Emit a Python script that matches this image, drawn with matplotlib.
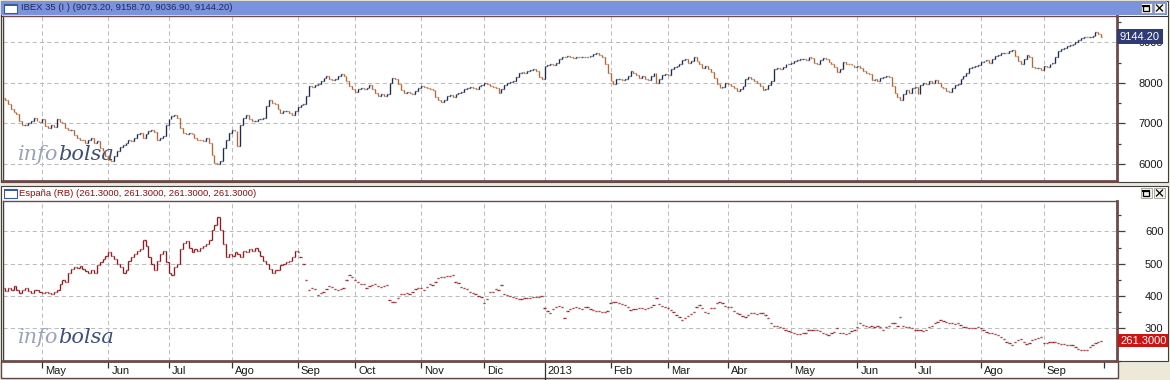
import numpy as np
import pandas as pd
import matplotlib
matplotlib.use('Agg')
import matplotlib.pyplot as plt
from matplotlib.collections import LineCollection
from matplotlib.patches import Rectangle

# ---------------- data ----------------
start_date = '2012-04-12'

ibex_first_open = 7620
ibex_close = [
    7570, 7490, 7350, 7290, 7240, 7070, 6960, 6970, 7020, 7070,
    7140, 7070, 7040, 7100, 6930, 6890, 6970, 6910, 7100, 7040,
    7020, 6890, 6830, 6850, 6710, 6630, 6580, 6600, 6520, 6580,
    6630, 6520, 6560, 6400, 6310, 6190, 6110, 6070, 6190, 6310,
    6410, 6460, 6520, 6600, 6560, 6640, 6730, 6770, 6630, 6730,
    6810, 6850, 6790, 6600, 6640, 6690, 6970, 7100, 7180, 7210,
    7140, 6890, 6770, 6740, 6770, 6730, 6640, 6600, 6580, 6560,
    6630, 6520, 6230, 6025, 6000, 6070, 6400, 6600, 6770, 6850,
    6810, 6440, 6970, 7140, 7220, 7120, 7060, 7070, 7100, 7120,
    7140, 7430, 7570, 7510, 7470, 7350, 7260, 7300, 7320, 7260,
    7220, 7300, 7400, 7450, 7490, 7680, 7920, 7900, 7950, 7980,
    8050, 8130, 8170, 8110, 8070, 8090, 8170, 8210, 8170, 8050,
    7920, 7840, 7780, 7860, 7880, 7840, 7880, 7950, 7860, 7760,
    7680,
    7720, 7680, 7730, 8000, 8130, 8090, 7970, 7820, 7760, 7780,
    7760, 7730, 7800, 7870, 7920, 7900, 7870, 7840, 7820, 7650,
    7590, 7540, 7570, 7680, 7700, 7650, 7720, 7760, 7780, 7840,
    7880, 7900, 7870, 7840, 7920, 7950, 8000, 7970, 7920, 7900,
    7870, 7760, 7840, 7950, 8000, 8030, 8050, 8150, 8250, 8280,
    8250, 8300, 8310, 8340, 8300, 8150, 8110, 8420, 8440, 8460,
    8440, 8500, 8590, 8640, 8630, 8670, 8630, 8610, 8640, 8630,
    8640, 8630, 8640, 8670, 8710, 8730, 8690, 8630, 8460, 8250,
    8050, 7970, 8090, 8110, 8070, 8110, 8170, 8300, 8250, 8200,
    8130, 8170, 8090, 8070, 8170, 8250, 8000, 8090, 8200, 8230,
    8200, 8340, 8400, 8420, 8460, 8560, 8590, 8500, 8540, 8630,
    8540, 8460, 8380, 8420, 8340, 8280, 8130, 7970, 7870, 7900,
    8000, 7980, 7920, 7870, 7800, 7840, 7920, 8090, 8150,
    8090, 8050, 8000, 7920, 7820, 7840, 7950, 8050, 8340, 8380,
    8340, 8400, 8460, 8480, 8500, 8540, 8560, 8590, 8590, 8560,
    8630, 8610, 8500, 8480, 8560, 8610, 8590, 8530, 8480, 8400,
    8280, 8340, 8530, 8480, 8460, 8440, 8400, 8420, 8360, 8300,
    8250, 8210, 8070, 8110, 8050, 8130, 8150, 8170, 8150, 7920,
    7760, 7650, 7570, 7720, 7820, 7760, 7880, 7900, 7720, 7960,
    8000, 7980, 8050, 8000, 8070, 8000, 7900, 7870, 7800, 7780,
    7870, 7950, 7970, 8090, 8170, 8250, 8380, 8400, 8420, 8440,
    8530, 8540, 8560, 8500, 8590, 8670, 8690, 8730, 8750, 8730,
    8780, 8810, 8670, 8540, 8480, 8590, 8690, 8640, 8400, 8360,
    8380, 8310, 8420, 8400, 8460, 8500, 8630, 8780, 8830, 8870,
    8920, 8940, 8970, 9020, 9060, 9110, 9140, 9130, 9140, 9160,
    9250, 9210, 9144.20,
]
ibex_last_ohlc = [9073.20, 9158.70, 9036.90, 9144.20]

espana_first_open = 425
espana_ranged_bars = 103   # bars drawn with a high-low range; later ones are single prints
espana_close = [
    415, 425, 420, 430, 420, 410, 418, 425, 415, 410,
    418, 420, 412, 408, 412, 410, 405, 412, 420, 438,
    450, 445, 470, 485, 490, 488, 492, 485, 478, 470,
    480, 472, 495, 505, 515, 525, 535, 525, 515, 500,
    490, 470, 480, 510, 520, 530, 540, 545, 575, 555,
    520, 500, 480, 510, 530, 540, 505, 470, 465, 490,
    500, 545, 565, 570, 550, 535, 545, 540, 550, 555,
    560, 575, 605, 620, 645, 605, 560, 520, 530, 525,
    535, 530, 520, 540, 535, 545, 540, 550, 540, 525,
    510, 500, 485, 470, 480, 480, 495, 500, 505, 510,
    520, 540, 535,
    522, 500, 450, 419, 424, 421, 404,
    409, 414, 421, 432, 427, 421, 419, 423, 425, 450,
    466, 458, 450, 442, 438, 438, 424, 431, 435, 438,
    431, 429, 431, 434, 388, 380, 383, 393,
    406, 406, 408, 406, 414, 421, 424, 424, 419, 429,
    437, 434, 445, 455, 458, 458, 462, 462, 464, 445,
    440, 427, 424, 421, 414, 410, 406, 400, 396, 379,
    390, 414, 414, 421, 419, 434, 406, 403, 400, 396,
    393, 390, 390, 393, 393, 393, 396, 398, 398, 400,
    362, 354, 348, 360, 367, 369, 367, 333, 355, 361,
    362, 365, 362, 359, 367, 365, 359, 357, 355, 355,
    351, 351, 355, 377, 382, 382, 377, 375, 372, 365,
    357, 359, 359, 362, 362, 359, 362, 365, 372, 393,
    375, 369, 367, 362, 357, 351, 341, 334, 325, 331,
    338, 344, 351, 365, 372, 362, 351, 346, 362, 362,
    377, 382, 379, 369, 367, 365, 355, 348, 344, 338,
    336, 341, 346,
    346, 344, 348, 348, 341, 331, 315, 307, 307, 305,
    300, 296, 292, 289, 286, 282, 282, 286, 284, 294,
    296, 296, 294, 292, 286, 282, 279, 284, 290, 300,
    286, 284, 282, 286, 292, 296, 303, 317, 310, 307,
    305, 307, 305, 307, 303, 296, 303, 307, 317, 317,
    307, 336, 307, 305, 303, 300, 296, 294, 294, 292,
    296, 305, 307, 315, 319, 325, 323, 319, 317, 315,
    313, 315, 310, 305, 303, 300, 300, 300, 303, 300,
    294, 289, 286, 284, 282, 279, 274, 266, 258, 253,
    248, 258, 264, 266, 258, 251, 255, 264, 266, 269,
    274, 255, 255, 258, 258, 258, 253, 251, 251, 247,
    247, 247, 242, 237, 234, 234, 234, 242, 248, 253,
    258, 261.30,
]
espana_last_ohlc = [261.30, 261.30, 261.30, 261.30]

month_starts = ['2012-05-01', '2012-06-01', '2012-07-01', '2012-08-01', '2012-09-01',
                '2012-10-01', '2012-11-01', '2012-12-01', '2013-01-01', '2013-02-01',
                '2013-03-01', '2013-04-01', '2013-05-01', '2013-06-01', '2013-07-01',
                '2013-08-01', '2013-09-01', '2013-10-01']
month_labels = ['May', 'Jun', 'Jul', 'Ago', 'Sep', 'Oct', 'Nov', 'Dic', '2013', 'Feb',
                'Mar', 'Abr', 'May', 'Jun', 'Jul', 'Ago', 'Sep', '']

ibex_yticks = [6000, 7000, 8000, 9000]
ibex_yminor = [6500, 7500, 8500, 9500]
espana_yticks = [300, 400, 500, 600]
espana_yminor = [200, 250, 350, 450, 550, 650]

# ---------------- figure ----------------
plt.rcParams['font.family'] = ['Liberation Sans', 'DejaVu Sans']
W, H = 1170, 380
fig = plt.figure(figsize=(W / 100, H / 100), dpi=100, facecolor='#ece9d8')


def px_rect(x0, y0, x1, y1):
    return [x0 / W, 1 - y1 / H, (x1 - x0) / W, (y1 - y0) / H]


# window chrome drawn on a pixel canvas
bg = fig.add_axes([0, 0, 1, 1])
bg.set_xlim(0, W)
bg.set_ylim(H, 0)
bg.axis('off')
frame_c = '#5c4848'
bg.add_patch(Rectangle((0.5, 0.5), 1167, 181.5, fc='white', ec='#404040', lw=0.8))
bg.add_patch(Rectangle((1, 1), 1166, 14, fc='#7b93dc', ec='none'))
bg.plot([1, 1167], [15.5, 15.5], color='#3a3030', lw=0.8)
bg.add_patch(Rectangle((0.5, 185.5), 1167, 175, fc='white', ec='#404040', lw=0.8))
bg.add_patch(Rectangle((0.5, 361), 1117, 16.5, fc='white', ec=frame_c, lw=1.0))


def win_icon(x, y):
    bg.add_patch(Rectangle((x, y), 13, 9, fc='white', ec='#3a5a9a', lw=0.8))
    bg.add_patch(Rectangle((x, y), 13, 2, fc='#3a5a9a', ec='none'))


def buttons(y):
    bg.add_patch(Rectangle((1140.5, y), 11, 10, fc='#f2f1ec', ec='#9a9a9a', lw=0.6))
    bg.add_patch(Rectangle((1143, y + 2.5), 6, 5, fc='none', ec='black', lw=0.9))
    bg.plot([1143, 1149], [y + 3, y + 3], color='black', lw=1.4)
    bg.add_patch(Rectangle((1154, y), 11, 10, fc='#f2f1ec', ec='#9a9a9a', lw=0.6))
    bg.plot([1156.5, 1162.5], [y + 2, y + 8], color='black', lw=0.9)
    bg.plot([1156.5, 1162.5], [y + 8, y + 2], color='black', lw=0.9)


win_icon(4, 4)
win_icon(4, 189)
buttons(3)
buttons(188)

o, h, l, c = ibex_last_ohlc
bg.text(21, 8, f'IBEX 35 (I ) ({o:.2f}, {h:.2f}, {l:.2f}, {c:.2f})',
        fontsize=6.8, color='#1e2860', va='center', ha='left')
o, h, l, c = espana_last_ohlc
bg.text(19, 193.5, f'España (RB) ({o:.4f}, {h:.4f}, {l:.4f}, {c:.4f})',
        fontsize=6.8, color='#8b0d0d', va='center', ha='left')

# ---------------- data axes ----------------
dates = pd.bdate_range(start_date, periods=len(ibex_close))
x = np.arange(len(ibex_close))
month_pos = dates.searchsorted(pd.to_datetime(month_starts))

ax1 = fig.add_axes(px_rect(3, 16, 1117, 181))
ax2 = fig.add_axes(px_rect(3, 201, 1117, 361))

xl = (-0.7, 387.5)
spine_c = '#6e4a4a'
grid_kw = dict(color='#bdbdbd', lw=0.75, ls=(0, (4, 3)))

for ax in (ax1, ax2):
    ax.set_xlim(*xl)
    ax.set_facecolor('white')
    ax.set_axisbelow(True)
    for s, w, cc in (('left', 1.0, '#4a3a3a'), ('top', 1.0, spine_c),
                     ('bottom', 2.0, spine_c), ('right', 2.0, spine_c)):
        ax.spines[s].set_color(cc)
        ax.spines[s].set_linewidth(w)
    ax.yaxis.tick_right()
    ax.tick_params(axis='y', which='major', direction='out', length=6, width=0.9,
                   color='#404040', labelsize=8, labelcolor='#1a1a1a', pad=27.4)
    ax.tick_params(axis='y', which='minor', direction='out', length=3, width=0.9,
                   color='#404040')
    ax.set_xticks(month_pos[:-1])
    ax.set_xticks(month_pos[-1:], minor=True)
    ax.grid(True, which='major', **grid_kw)


def ohlc_segments(xs, opens, closes, half):
    segs = []
    for xi, op, cl in zip(xs, opens, closes):
        segs.append([(xi, min(op, cl)), (xi, max(op, cl))])
        segs.append([(xi - half, op), (xi, op)])
        segs.append([(xi, cl), (xi + half, cl)])
    return segs


# IBEX 35 bars
ibex_open = [ibex_first_open] + ibex_close[:-1]
ibex_cols = []
for op, cl in zip(ibex_open, ibex_close):
    col = '#1f2a4e' if cl >= op else '#b4683a'
    ibex_cols += [col] * 3
ax1.add_collection(LineCollection(ohlc_segments(x, ibex_open, ibex_close, 0.32),
                                  colors=ibex_cols, linewidths=0.95, zorder=3))
ax1.set_ylim(5580, 9654)
ax1.set_yticks(ibex_yticks)
ax1.set_yticks(ibex_yminor, minor=True)
ax1.set_yticklabels([str(v) for v in ibex_yticks])
ax1.tick_params(axis='x', which='both', length=0, labelbottom=False)
for lab in ax1.get_yticklabels():
    lab.set_horizontalalignment('right')

# España risk premium
esp_open = ([espana_first_open] + espana_close[:espana_ranged_bars - 1]
            + espana_close[espana_ranged_bars:])
ax2.add_collection(LineCollection(ohlc_segments(x, esp_open, espana_close, 0.4),
                                  colors='#8e1b24', linewidths=0.95, zorder=3))
ax2.set_ylim(198.7, 694.5)
ax2.set_yticks(espana_yticks)
ax2.set_yticks(espana_yminor, minor=True)
ax2.set_yticklabels([str(v) for v in espana_yticks])
for lab in ax2.get_yticklabels():
    lab.set_horizontalalignment('right')
ax2.tick_params(axis='x', which='both', direction='out', length=5, width=0.9,
                color='#303030', labelbottom=False)
for i, tk in enumerate(ax2.xaxis.get_major_ticks()):
    if month_labels[i] == '2013':
        tk.tick1line.set_markersize(15)
for pos, lab in zip(month_pos[:-1], month_labels[:-1]):
    ax2.annotate(lab, xy=(pos, 0), xycoords=('data', 'axes fraction'),
                 xytext=(3, -10), textcoords='offset pixels',
                 ha='left', va='center', fontsize=8, color='#1a1a1a',
                 annotation_clip=False)

# last-value boxes
ax1.annotate(f'{ibex_close[-1]:.2f}', xy=(1, ibex_close[-1]),
             xycoords=('axes fraction', 'data'), xytext=(3, 0),
             textcoords='offset pixels', ha='left', va='center', fontsize=8,
             color='white', zorder=10, annotation_clip=False,
             bbox=dict(boxstyle='square,pad=0.24', fc='#2f3c74', ec='none'))
ax2.annotate(f'{espana_close[-1]:.4f}', xy=(1, espana_close[-1]),
             xycoords=('axes fraction', 'data'), xytext=(3, 0),
             textcoords='offset pixels', ha='left', va='center', fontsize=8,
             color='white', zorder=10, annotation_clip=False,
             bbox=dict(boxstyle='square,pad=0.15', fc='#cc1414', ec='none'))

# infobolsa watermark
for ax, yb in ((ax1, 0.127), (ax2, 0.115)):
    t = ax.text(0.0135, yb, 'info', transform=ax.transAxes, family='DejaVu Serif',
                style='italic', fontsize=15, color='#9aa3b6', zorder=1)
    ax.annotate('bolsa', xy=(1, 0), xycoords=t, ha='left', va='bottom',
                family='DejaVu Serif', style='italic', fontsize=15,
                color='#3d4e74', zorder=1)

fig.savefig('out.png', dpi=100, facecolor=fig.get_facecolor())
